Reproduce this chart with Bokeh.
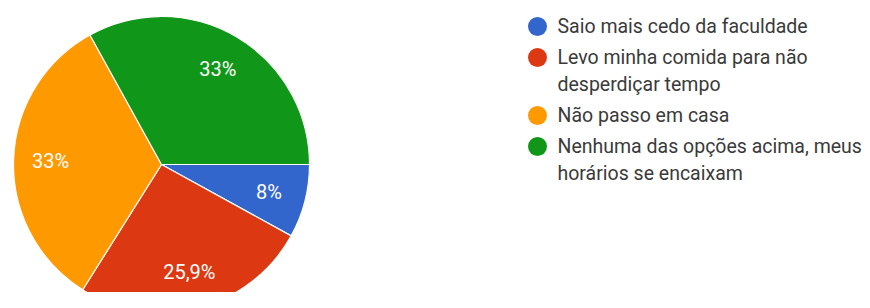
import math
from bokeh.plotting import figure
from bokeh.models import Range1d, ColumnDataSource
from bokeh.core.properties import value
from bokeh.embed import file_html
from bokeh.resources import INLINE

# ---- data ----
categories = [
    "Saio mais cedo da faculdade",
    "Levo minha comida para não\ndesperdiçar tempo",
    "Não passo em casa",
    "Nenhuma das opções acima, meus\nhorários se encaixam",
]
percents = [8.0, 25.9, 33.0, 33.0]
pct_labels = ["8%", "25,9%", "33%", "33%"]
colors = ["#3366cc", "#dc3912", "#ff9900", "#109618"]

# ---- layout (pixels, y measured from top of picture) ----
W, H = 862, 292
def yp(page_y):
    return H - page_y

cx, cy, R = 161, yp(164), 148
label_r = 0.75 * R
font = "Roboto"

total = sum(percents)
starts, ends, lx, ly = [], [], [], []
cum = 0.0
for v in percents:
    a0 = -cum / total * 2 * math.pi
    cum += v
    a1 = -cum / total * 2 * math.pi
    starts.append(a1)
    ends.append(a0)
    mid = (a0 + a1) / 2
    lx.append(cx + label_r * math.cos(mid))
    ly.append(cy + label_r * math.sin(mid))

p = figure(width=W, height=H, output_backend="svg", toolbar_location=None,
           x_range=Range1d(0, W), y_range=Range1d(0, H),
           min_border=0, outline_line_color=None)
p.axis.visible = False
p.grid.visible = False
p.background_fill_color = "white"
p.border_fill_color = "white"

src = ColumnDataSource(dict(start=starts, end=ends, color=colors))
p.wedge(x=cx, y=cy, radius=R, start_angle="start", end_angle="end",
        fill_color="color", line_color="white", line_width=1.2, source=src)

p.text(x=lx, y=ly, text=pct_labels, text_color="white", text_font=value(font),
       text_font_size="20px", text_align="center", text_baseline="middle")

# legend
dot_x, text_x = 537, 557
line_step, item_gap = 27, 4
y = 26
dxs, dys, dcols = [], [], []
tx, ty, tt = [], [], []
for lab, col in zip(categories, colors):
    dxs.append(dot_x); dys.append(yp(y)); dcols.append(col)
    for line in lab.split("\n"):
        tx.append(text_x); ty.append(yp(y)); tt.append(line)
        y += line_step
    y += item_gap

p.scatter(x=dxs, y=dys, size=19, marker="circle", fill_color=dcols, line_color=None)
p.text(x=tx, y=ty, text=tt, text_color="#3a3a3a", text_font=value(font),
       text_font_size="19.5px", text_align="left", text_baseline="middle")

open("out.html", "w").write(file_html(p, INLINE))
